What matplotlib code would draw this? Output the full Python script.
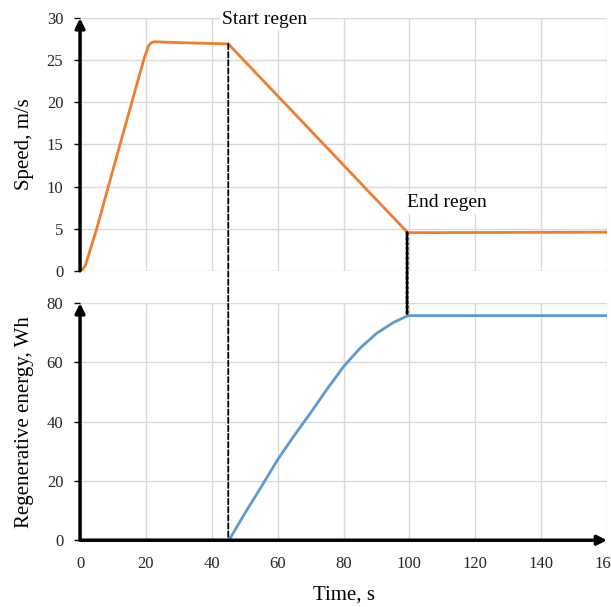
import numpy as np
import matplotlib
matplotlib.use('Agg')
import matplotlib.pyplot as plt
from matplotlib.patches import ConnectionPatch

plt.rcParams['font.family'] = ['Liberation Serif', 'DejaVu Serif']

# speed profile
speed_t = [0, 0.7, 1.6, 5, 10, 15, 19.5, 20.8, 21.5, 22.5, 30, 40, 45, 99.5, 110, 130, 160]
speed_v = [0, 0.15, 0.6, 4.9, 12.0, 19.0, 25.3, 26.7, 27.05, 27.2, 27.1, 27.0, 26.95, 4.52, 4.53, 4.55, 4.58]

# regenerative energy
energy_t = [0, 45.2, 50, 55, 60, 65, 70, 75, 80, 85, 90, 95, 99.5, 160]
energy_wh = [0, 0, 9.0, 18.0, 27.2, 35.3, 43.0, 51.0, 58.6, 64.8, 69.8, 73.4, 75.8, 75.8]

t_start, v_start = 45.0, 26.95
t_end, v_end, e_end = 99.3, 4.52, 75.8

orange = '#ED7D31'
blue = '#5B9BD5'
grid_c = '#d9d9d9'

fig = plt.figure(figsize=(6.11, 6.07), dpi=100)
ax1 = fig.add_axes([0.131, 0.554, 0.8625, 0.416])
ax2 = fig.add_axes([0.131, 0.110, 0.8625, 0.3905])

for ax in (ax1, ax2):
    ax.set_xlim(0, 160)
    ax.set_xticks(np.arange(0, 161, 20))
    ax.grid(True, color=grid_c, lw=1)
    ax.set_axisbelow(True)
    for s in ax.spines.values():
        s.set_visible(False)
    ax.tick_params(axis='y', length=4, width=1, color='black', pad=8, labelsize=12,
                   labelcolor='#262626')
    ax.tick_params(axis='x', length=0, pad=11, labelsize=12, labelcolor='#262626')
    # arrow on the y axis
    ax.annotate('', xy=(0, 1.0), xytext=(0, 0), xycoords='axes fraction',
                arrowprops=dict(arrowstyle='-|>', lw=2.5, color='black',
                                mutation_scale=14, shrinkA=0, shrinkB=0))

ax1.plot(speed_t, speed_v, color=orange, lw=2)
ax1.set_ylim(0, 30)
ax1.set_yticks(np.arange(0, 31, 5))
ax1.tick_params(axis='x', labelbottom=False)
ax1.set_ylabel('Speed, m/s', fontsize=15, labelpad=9)

ax2.plot(energy_t, energy_wh, color=blue, lw=2)
ax2.set_ylim(0, 80)
ax2.set_yticks(np.arange(0, 81, 20))
ax2.set_ylabel('Regenerative energy, Wh', fontsize=15, labelpad=9)
ax2.set_xlabel('Time, s', fontsize=15, labelpad=10)
ax2.annotate('', xy=(1.0, 0), xytext=(0, 0), xycoords='axes fraction',
             arrowprops=dict(arrowstyle='-|>', lw=2.5, color='black',
                             mutation_scale=14, shrinkA=0, shrinkB=0))

# regen markers between the two panels
con1 = ConnectionPatch(xyA=(t_start, v_start), coordsA=ax1.transData,
                       xyB=(t_start, 0), coordsB=ax2.transData,
                       color='black', lw=1.3, ls=(0, (3, 1.5)))
fig.add_artist(con1)
con2 = ConnectionPatch(xyA=(t_end, v_end), coordsA=ax1.transData,
                       xyB=(t_end, e_end), coordsB=ax2.transData,
                       color='black', lw=2.2, ls=(0, (0.8, 0.8)))
fig.add_artist(con2)

box = dict(facecolor='white', edgecolor='none', pad=1.5)
ax1.text(43.1, 29.9, 'Start regen', fontsize=14, ha='left', va='center',
         bbox=box, clip_on=False)
ax1.text(99.3, 8.05, 'End regen', fontsize=14, ha='left', va='center', bbox=box)

fig.savefig('out.png', dpi=100)
